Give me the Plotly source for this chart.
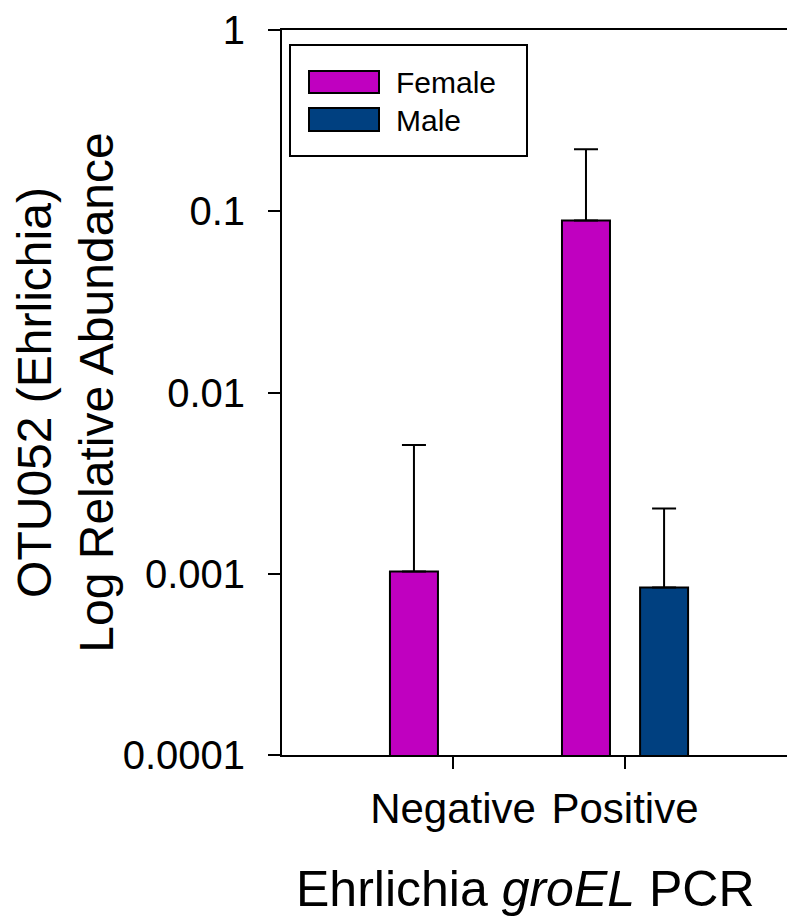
import plotly.graph_objects as go

categories = ["Negative", "Positive"]
female_values = [0.00103, 0.089]
female_err_plus = [0.0041, 0.131]
male_values = [None, 0.00084]
male_err_plus = [0, 0.00145]
ytick_vals = [0.0001, 0.001, 0.01, 0.1, 1]
ytick_text = ["0.0001", "0.001", "0.01", "0.1", "1"]

FEMALE_COLOR = "#C000C0"
MALE_COLOR = "#004080"
FONT = "Arial, Liberation Sans, sans-serif"

bar_w = 0.279
half_sep = 0.227

fig = go.Figure()
fig.add_trace(go.Bar(
    x=categories, y=female_values, name="Female",
    marker=dict(color=FEMALE_COLOR, line=dict(color="black", width=2)),
    width=bar_w, offset=-half_sep - bar_w / 2,
    error_y=dict(type="data", symmetric=False, array=female_err_plus,
                 arrayminus=[0, 0], color="black", thickness=2, width=12),
    showlegend=False,
))
fig.add_trace(go.Bar(
    x=categories, y=male_values, name="Male",
    marker=dict(color=MALE_COLOR, line=dict(color="black", width=2)),
    width=bar_w, offset=half_sep - bar_w / 2,
    error_y=dict(type="data", symmetric=False, array=male_err_plus,
                 arrayminus=[0, 0], color="black", thickness=2, width=12),
    showlegend=False,
))

# page coordinates -> plot-area (paper) fractions; plot area spans 282..795 x 30..755 on the page
def px_x(p):
    return (p - 282) / 513.0

def px_y(p):
    return (755 - p) / 725.0

shapes = [
    dict(type="rect", xref="paper", yref="paper",
         x0=px_x(290), x1=px_x(527), y0=px_y(156), y1=px_y(45),
         line=dict(color="black", width=2), fillcolor="white"),
    dict(type="rect", xref="paper", yref="paper",
         x0=px_x(309), x1=px_x(379), y0=px_y(93), y1=px_y(71),
         line=dict(color="black", width=2), fillcolor=FEMALE_COLOR),
    dict(type="rect", xref="paper", yref="paper",
         x0=px_x(309), x1=px_x(379), y0=px_y(131), y1=px_y(108),
         line=dict(color="black", width=2), fillcolor=MALE_COLOR),
]
annotations = [
    dict(text="Female", xref="paper", yref="paper", x=px_x(394), y=px_y(82),
         xanchor="left", yanchor="middle", showarrow=False,
         font=dict(family=FONT, size=30, color="black")),
    dict(text="Male", xref="paper", yref="paper", x=px_x(394), y=px_y(120),
         xanchor="left", yanchor="middle", showarrow=False,
         font=dict(family=FONT, size=30, color="black")),
    dict(text="Ehrlichia <i>groEL</i> PCR", xref="paper", yref="paper",
         x=px_x(525), y=px_y(889), xanchor="center", yanchor="middle",
         showarrow=False, font=dict(family=FONT, size=50, color="black")),
]

fig.update_layout(
    width=787, height=910,
    margin=dict(l=274, r=0, t=22, b=163),
    paper_bgcolor="white", plot_bgcolor="white",
    font=dict(family=FONT, color="black"),
    shapes=shapes, annotations=annotations,
    barmode="overlay",
)
fig.update_xaxes(
    range=[-0.994, 1.988],
    showline=True, linecolor="black", linewidth=2, mirror=True,
    ticks="outside", ticklen=12, tickwidth=2, tickcolor="black",
    tickfont=dict(family=FONT, size=42, color="black"),
    ticklabelstandoff=4,
    showgrid=False, zeroline=False,
)
fig.update_yaxes(
    type="log", range=[-4, 0],
    tickvals=ytick_vals, ticktext=ytick_text,
    showline=True, linecolor="black", linewidth=2, mirror=False,
    ticks="outside", ticklen=12, tickwidth=2, tickcolor="black",
    tickfont=dict(family=FONT, size=40, color="black"),
    ticklabelstandoff=15,
    showgrid=False, zeroline=False,
    title=dict(text="OTU052 (Ehrlichia)<br>Log Relative Abundance",
               font=dict(family=FONT, size=48, color="black"), standoff=11),
)

fig.write_html("out.html")
